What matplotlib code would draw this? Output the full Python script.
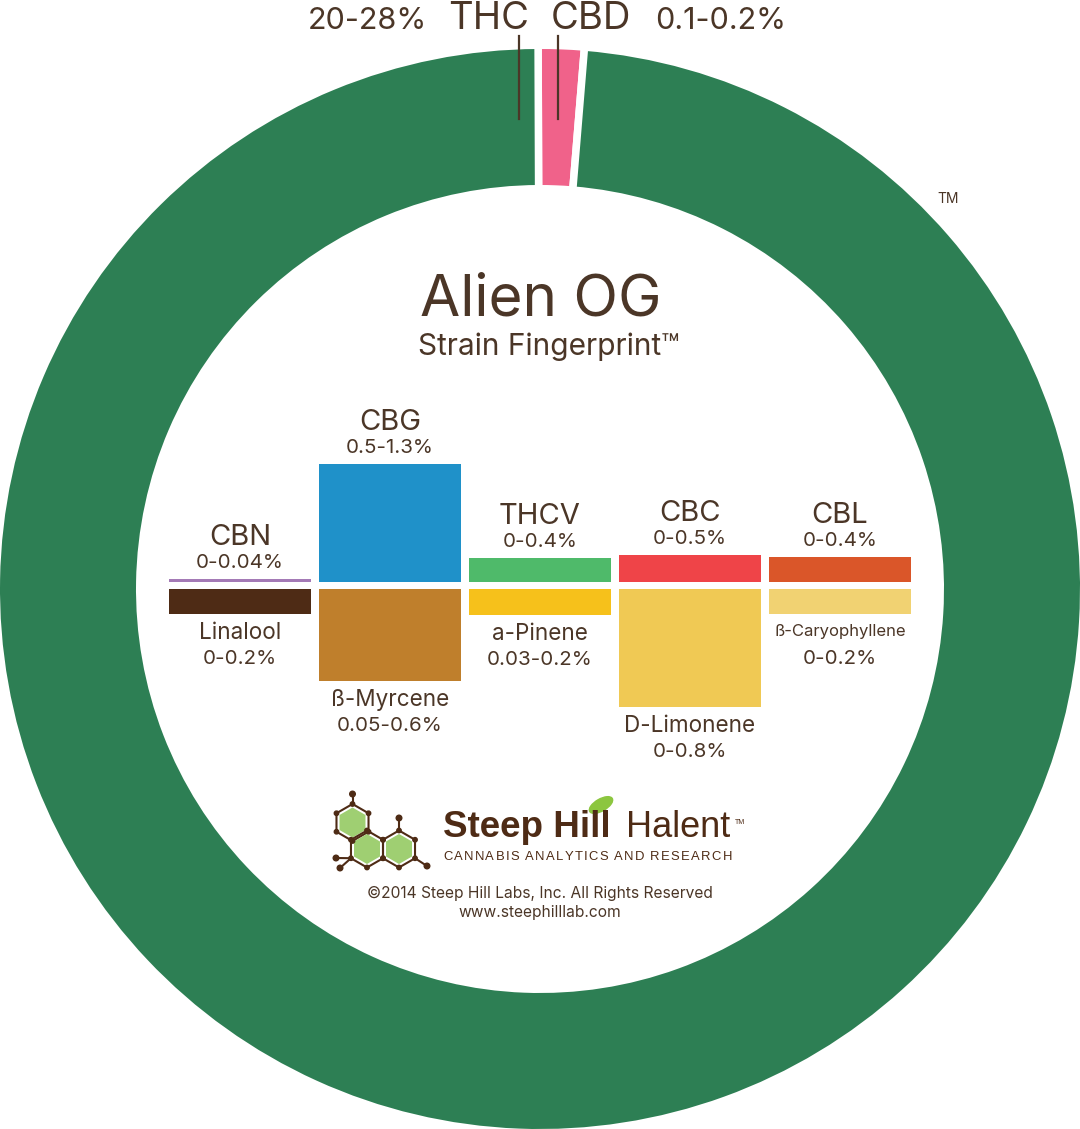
import math
import matplotlib.pyplot as plt
from matplotlib.patches import RegularPolygon, Circle, Ellipse

W, H = 1080, 1129

# outer ring: THC / CBD
ring_names = ["CBD", "THC"]
ring_ranges = ["0.1-0.2%", "20-28%"]
ring_share = [1.36, 98.64]          # share of the ring
ring_colors = ["#f0628a", "#2d7f54"]

# cannabinoids (bars up) and terpenes (bars down), heights
cannabinoids = ["CBN", "CBG", "THCV", "CBC", "CBL"]
cannabinoid_ranges = ["0-0.04%", "0.5-1.3%", "0-0.4%", "0-0.5%", "0-0.4%"]
cannabinoid_heights = [2.7, 117.7, 23.7, 26.4, 25.0]
cannabinoid_colors = ["#a47ab6", "#1f91c9", "#4fba6a", "#ef4448", "#da5629"]

terpenes = ["Linalool", "ß-Myrcene", "a-Pinene", "D-Limonene", "ß-Caryophyllene"]
terpene_ranges = ["0-0.2%", "0.05-0.6%", "0.03-0.2%", "0-0.8%", "0-0.2%"]
terpene_heights = [25.3, 92.3, 26.3, 118.0, 25.3]
terpene_colors = ["#4e2b15", "#bf7f2c", "#f6c11b", "#f0c954", "#f1d272"]

TXT = "#4b3627"
LOGO = "#4e2b15"
FONT = "Inter"


def spaced_text(ax, x, y, s, width, **kw):
    # draw capitals one by one, spread so the line is `width` px long
    r = ax.figure.canvas.get_renderer()
    ws = []
    for ch in s:
        t = ax.text(0, 0, ch if ch != " " else "I", **kw)
        ws.append(t.get_window_extent(r).width * (0.75 if ch == " " else 1))
        t.remove()
    gap = (width - sum(ws)) / (len(s) - 1)
    for ch, w in zip(s, ws):
        if ch != " ":
            ax.text(x, y, ch, ha="left", va="baseline", **kw)
        x += w + gap


def main():
    fig = plt.figure(figsize=(W / 100, H / 100), dpi=100)
    ax = fig.add_axes([0, 0, 1, 1])

    # ring (y axis is flipped below, so counterclock=True runs clockwise on screen)
    ax.pie(ring_share, colors=ring_colors, center=(540, 589), radius=543.75,
           startangle=-90.2, counterclock=True,
           wedgeprops=dict(width=143.5, edgecolor="white", linewidth=5.4))
    ax.set_xlim(0, W)
    ax.set_ylim(H, 0)
    ax.set_aspect("equal")
    ax.axis("off")

    # ring labels
    ax.plot([519, 519], [36, 119], color=TXT, lw=1.6)
    ax.plot([557.7, 557.7], [36, 119], color=TXT, lw=1.6)
    ax.text(529, 29, ring_names[1], ha="right", va="baseline", fontsize=27.5,
            color=TXT, family=FONT)
    ax.text(427, 29, ring_ranges[1], ha="right", va="baseline", fontsize=22,
            color=TXT, family=FONT)
    ax.text(551, 29, ring_names[0], ha="left", va="baseline", fontsize=27.5,
            color=TXT, family=FONT)
    ax.text(655, 29, ring_ranges[0], ha="left", va="baseline", fontsize=22,
            color=TXT, family=FONT)
    ax.text(937, 203, "TM", ha="left", va="baseline", fontsize=10,
            color=TXT, family=FONT)

    # title
    ax.text(541, 315, "Alien OG", ha="center", va="baseline", fontsize=42,
            color=TXT, family=FONT)
    ax.text(549, 355, "Strain Fingerprint™", ha="center", va="baseline",
            fontsize=21.5, color=TXT, family=FONT)

    # bars
    xs = [240 + 150 * i for i in range(len(cannabinoids))]
    up_base, down_base = 581.7, 588.7
    ax.bar(xs, [-h for h in cannabinoid_heights], bottom=up_base, width=142.5,
           color=cannabinoid_colors)
    ax.bar(xs, terpene_heights, bottom=down_base, width=142.5,
           color=terpene_colors)

    for x, name, rng, h in zip(xs, cannabinoids, cannabinoid_ranges,
                               cannabinoid_heights):
        top = up_base - h
        ax.text(x, top - 34, name, ha="center", va="baseline", fontsize=21,
                color=TXT, family=FONT)
        ax.text(x, top - 11, rng, ha="center", va="baseline", fontsize=14.8,
                color=TXT, family=FONT)

    for x, name, rng, h in zip(xs, terpenes, terpene_ranges, terpene_heights):
        bot = down_base + h
        small = len(name) > 12
        ax.text(x, bot + (22 if small else 25), name, ha="center", va="baseline",
                fontsize=12 if small else 16.2, color=TXT, family=FONT)
        ax.text(x, bot + 50, rng, ha="center", va="baseline", fontsize=14.8,
                color=TXT, family=FONT)

    # logo: little molecule
    R = 18.5
    hexes = [(352.5, 822.5), (367, 849), (399, 849)]
    for cx, cy in hexes:
        ax.add_patch(RegularPolygon((cx, cy), 6, radius=R, orientation=0,
                                    facecolor="none", edgecolor=LOGO, lw=1.5))
        ax.add_patch(RegularPolygon((cx, cy), 6, radius=R - 3.5, orientation=0,
                                    facecolor="#9fcf72", edgecolor="none"))
    stubs = [((352.5, 804), (352.5, 794)), ((399, 830.5), (399, 818)),
             ((351, 858.2), (336, 858)), ((351, 858.2), (340, 868)),
             ((415, 858.2), (427, 866))]
    for (x0, y0), (x1, y1) in stubs:
        ax.plot([x0, x1], [y0, y1], color=LOGO, lw=1.5)
        ax.add_patch(Circle((x1, y1), 2.8, color=LOGO))
    for cx, cy in hexes:
        for k in range(6):
            a = math.radians(90 + 60 * k)
            ax.add_patch(Circle((cx + R * math.cos(a), cy - R * math.sin(a)),
                                2.2, color=LOGO))

    ax.text(443, 837, "Steep Hill", ha="left", va="baseline", fontsize=26.5,
            fontweight="bold", color=LOGO, family="Liberation Sans")
    ax.add_patch(Ellipse((601, 805), 26, 12, angle=-30, color="#8cc63f"))
    ax.text(626, 837, "Halent", ha="left", va="baseline", fontsize=26,
            color=LOGO, family="Liberation Sans")
    ax.text(735, 824, "TM", ha="left", va="baseline", fontsize=5,
            color=LOGO, family="Liberation Sans")
    spaced_text(ax, 443, 860, "CANNABIS ANALYTICS AND RESEARCH", 289,
                fontsize=9.4, color=LOGO, family="Liberation Sans")

    ax.text(540, 898, "©2014 Steep Hill Labs, Inc. All Rights Reserved",
            ha="center", va="baseline", fontsize=11.2, color=TXT, family=FONT)
    ax.text(540, 917, "www.steephilllab.com", ha="center", va="baseline",
            fontsize=11.2, color=TXT, family=FONT)

    fig.savefig("out.png", dpi=100, facecolor="white")


if __name__ == "__main__":
    main()
